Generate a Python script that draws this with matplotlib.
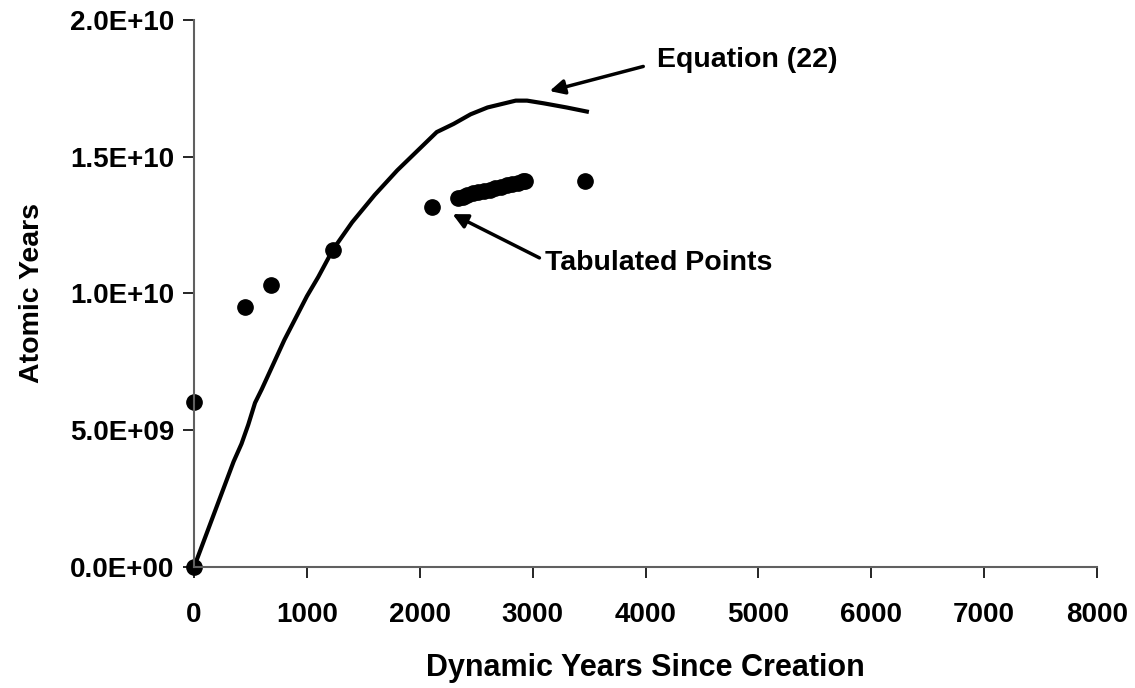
import matplotlib.pyplot as plt
from matplotlib.ticker import FuncFormatter

plt.rcParams['font.family'] = ['Liberation Sans', 'DejaVu Sans']
plt.rcParams['font.weight'] = 'bold'

# Equation (22) curve
eq_years = [0, 100, 200, 300, 350, 420, 480, 540, 600, 700, 800, 900, 1000,
            1100, 1230, 1400, 1600, 1800, 2000, 2150, 2300, 2450, 2600, 2750,
            2850, 2950, 3100, 3300, 3480]
eq_atomic = [0, 1.1e9, 2.2e9, 3.3e9, 3.85e9, 4.5e9, 5.2e9, 6.0e9, 6.5e9, 7.4e9,
             8.3e9, 9.1e9, 9.9e9, 10.6e9, 11.6e9, 12.6e9, 13.6e9, 14.5e9, 15.3e9,
             15.9e9, 16.2e9, 16.55e9, 16.8e9, 16.95e9, 17.05e9, 17.05e9, 16.95e9,
             16.8e9, 16.65e9]

# tabulated points
tab_years = [0, 0, 450, 680, 1230, 2110, 2340, 2380, 2420, 2470, 2520, 2570,
             2620, 2670, 2720, 2770, 2820, 2870, 2910, 2930, 3460]
tab_atomic = [0, 6.03e9, 9.5e9, 1.03e10, 1.16e10, 1.315e10, 1.35e10, 1.354e10,
              1.36e10, 1.366e10, 1.372e10, 1.376e10, 1.38e10, 1.385e10, 1.39e10,
              1.396e10, 1.40e10, 1.405e10, 1.41e10, 1.411e10, 1.411e10]

fig = plt.figure(figsize=(11.35, 6.88), dpi=100)
ax = fig.add_axes([0.171, 0.176, 0.7955, 0.795])

ax.plot(eq_years, eq_atomic, color='black', lw=3, clip_on=False)
ax.plot(tab_years, tab_atomic, 'o', color='black', markersize=11, clip_on=False)

ax.set_xlim(0, 8000)
ax.set_ylim(0, 2.0e10)
ax.set_xticks(range(0, 8001, 1000))
ax.set_yticks([0, 5e9, 1e10, 1.5e10, 2e10])
ax.yaxis.set_major_formatter(FuncFormatter(lambda v, p: f"{v:.1E}"))

for s in ['top', 'right']:
    ax.spines[s].set_visible(False)
for s in ['left', 'bottom']:
    ax.spines[s].set_color('#606060')
    ax.spines[s].set_linewidth(1.5)

ax.tick_params(direction='out', length=8, width=1.2, labelsize=20, pad=6)
ax.tick_params(axis='x', pad=17)
for lab in ax.get_xticklabels() + ax.get_yticklabels():
    lab.set_fontweight('bold')

ax.set_xlabel("Dynamic Years Since Creation", fontsize=22, fontweight='bold', labelpad=18)
ax.set_ylabel("Atomic Years", fontsize=20.5, fontweight='bold', labelpad=18)

arrow = dict(arrowstyle='-|>', color='black', lw=2.5, mutation_scale=22,
             shrinkA=0, shrinkB=0)
ax.annotate("", xy=(3150, 1.74e10), xytext=(3980, 1.83e10), arrowprops=arrow)
ax.text(4100, 1.854e10, "Equation (22)", fontsize=20.5, fontweight='bold',
        va='center', ha='left')
ax.annotate("", xy=(2290, 1.29e10), xytext=(3060, 1.13e10), arrowprops=arrow)
ax.text(3110, 1.11e10, "Tabulated Points", fontsize=20.5, fontweight='bold',
        va='center', ha='left')

plt.savefig("out.png", dpi=100)
